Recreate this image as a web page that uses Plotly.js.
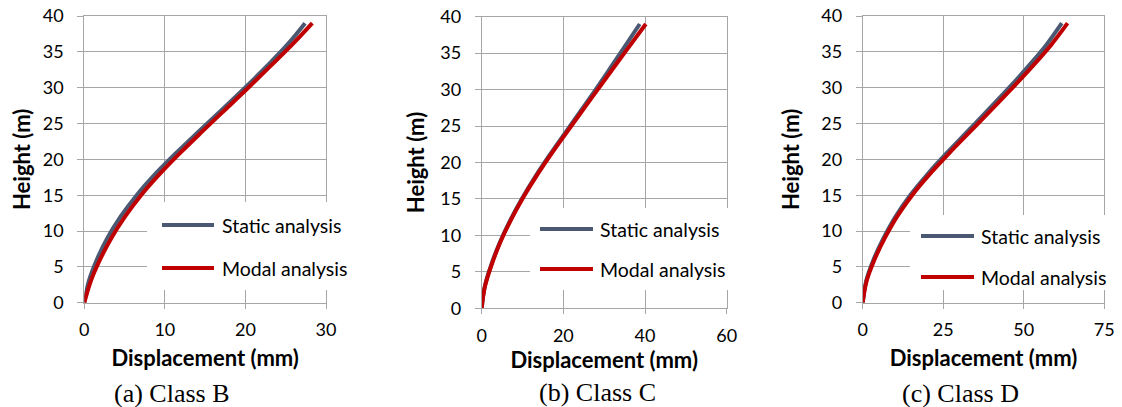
<!DOCTYPE html>
<html>
<head>
<meta charset="utf-8">
<script src="https://cdn.plot.ly/plotly-3.0.1.min.js"></script>
<style>
  html, body { margin: 0; padding: 0; background: #ffffff; }
  #chart { width: 1122px; height: 407px; }
</style>
</head>
<body>
<div id="chart"></div>
<script>
// Storey heights (m)
const heights = [0, 3, 6, 9, 12, 15, 18, 21, 24, 27, 30, 33, 36, 39];

// Lateral displacement (mm) per soil class
const staticB = [0, 0.55, 1.55, 2.85, 4.5, 6.5, 8.85, 11.5, 14.3, 17.15, 19.95, 22.65, 25.2, 27.4];
const modalB  = [0, 0.8, 1.95, 3.35, 5.05, 7.05, 9.4, 12.0, 14.75, 17.55, 20.35, 23.1, 25.8, 28.3];

const staticC = [0, 0.75, 2.35, 4.4, 6.9, 9.8, 13.05, 16.6, 20.35, 24.15, 27.9, 31.55, 35.15, 38.7];
const modalC  = [0, 0.8, 2.45, 4.5, 7.05, 9.95, 13.25, 16.85, 20.65, 24.5, 28.4, 32.3, 36.25, 40.2];

const staticD = [0, 1.05, 3.35, 6.45, 10.15, 14.75, 20.25, 26.35, 32.75, 39.15, 45.45, 51.45, 57.05, 61.8];
const modalD  = [0, 1.2, 3.65, 6.85, 10.65, 15.35, 20.95, 27.15, 33.65, 40.15, 46.55, 52.75, 58.55, 63.6];

const seriesNames = ['Static analysis', 'Modal analysis'];
const captions = ['(a) Class B', '(b) Class C', '(c) Class D'];
const xRanges = [[0, 30], [0, 60], [0, 75]];
const xSteps = [10, 20, 25];

const W = 1122, H = 407;
const px = v => v / W;
const py = v => 1 - v / H;

const GRID = '#a6a6a6';
const COLORS = ['#4a5872', '#c00000'];
const SANS = 'Lato, "Open Sans", sans-serif';

// Pixel frame of each panel: plot box, legend box, caption and title offsets
const panels = [
  { x0: 84.3, x1: 326, yTop: 16, yBot: 302.7, box: [147, 202, 355, 290], leg: [162, 214, 220, 225, 268], cap: [171.5, 393], ystand: 5.5, xstand: 11 },
  { x0: 481.7, x1: 726.7, yTop: 16.7, yBot: 308.3, box: [530, 208, 740, 290], leg: [540, 593, 598, 229, 269], cap: [597.5, 392], ystand: 9, xstand: 5 },
  { x0: 862.7, x1: 1104.3, yTop: 16, yBot: 302.7, box: [910, 215, 1118, 290], leg: [921, 974, 979, 236, 277], cap: [961, 393], ystand: 15, xstand: 11 }
];

const dataSets = [[staticB, modalB], [staticC, modalC], [staticD, modalD]];

const traces = [];
const layout = {
  width: W, height: H,
  margin: { l: 0, r: 0, t: 0, b: 0 },
  paper_bgcolor: '#ffffff',
  plot_bgcolor: '#ffffff',
  showlegend: false,
  shapes: [],
  annotations: []
};

panels.forEach((p, i) => {
  const n = i === 0 ? '' : String(i + 1);
  const xa = 'x' + n, ya = 'y' + n;

  dataSets[i].forEach((vals, k) => {
    traces.push({
      type: 'scatter', mode: 'lines',
      name: seriesNames[k],
      x: vals, y: heights,
      xaxis: xa, yaxis: ya,
      line: { color: COLORS[k], width: 4, shape: 'spline', smoothing: 1 },
      hoverinfo: 'skip'
    });
  });

  layout['xaxis' + n] = {
    domain: [px(p.x0), px(p.x1)],
    anchor: ya,
    range: xRanges[i],
    dtick: xSteps[i], tick0: 0,
    showgrid: true, gridcolor: GRID, gridwidth: 1,
    showline: true, mirror: true, linecolor: GRID, linewidth: 1,
    zeroline: false,
    ticks: 'outside', ticklen: 5, tickcolor: GRID, tickwidth: 1,
    ticklabelstandoff: 6,
    tickfont: { family: SANS, size: 18, color: '#000000' },
    title: { text: 'Displacement (mm)', standoff: p.xstand,
             font: { family: SANS, size: 22, color: '#000000', weight: 'bold' } },
    fixedrange: true
  };
  layout['yaxis' + n] = {
    domain: [py(p.yBot), py(p.yTop)],
    anchor: xa,
    range: [0, 40],
    dtick: 5, tick0: 0,
    showgrid: true, gridcolor: GRID, gridwidth: 1,
    showline: true, mirror: true, linecolor: GRID, linewidth: 1,
    zeroline: false,
    ticks: 'outside', ticklen: 6, tickcolor: GRID, tickwidth: 1,
    ticklabelstandoff: 10,
    tickfont: { family: SANS, size: 18, color: '#000000' },
    title: { text: 'Height (m)', standoff: p.ystand,
             font: { family: SANS, size: 22, color: '#000000', weight: 'bold' } },
    fixedrange: true
  };

  // Legend: white box over the grid, line samples and labels
  const b = p.box;
  layout.shapes.push({
    type: 'rect', xref: 'paper', yref: 'paper', layer: 'above',
    x0: px(b[0]), x1: px(b[2]), y0: py(b[3]), y1: py(b[1]),
    fillcolor: '#ffffff', line: { width: 0 }
  });
  const L = p.leg;
  [L[3], L[4]].forEach((yy, k) => {
    layout.shapes.push({
      type: 'line', xref: 'paper', yref: 'paper', layer: 'above',
      x0: px(L[0]), x1: px(L[1]), y0: py(yy), y1: py(yy),
      line: { color: COLORS[k], width: 4 }
    });
    layout.annotations.push({
      xref: 'paper', yref: 'paper', x: px(L[2]), y: py(yy),
      xanchor: 'left', yanchor: 'middle', showarrow: false,
      text: seriesNames[k],
      font: { family: SANS, size: 19.5, color: '#000000' }
    });
  });

  layout.annotations.push({
    xref: 'paper', yref: 'paper', x: px(p.cap[0]), y: py(p.cap[1]),
    xanchor: 'center', yanchor: 'middle', showarrow: false,
    text: captions[i],
    font: { family: '"Liberation Serif", "Times New Roman", serif', size: 26, color: '#000000' }
  });
});

Plotly.newPlot('chart', traces, layout, { displayModeBar: false, staticPlot: true });
</script>
</body>
</html>
